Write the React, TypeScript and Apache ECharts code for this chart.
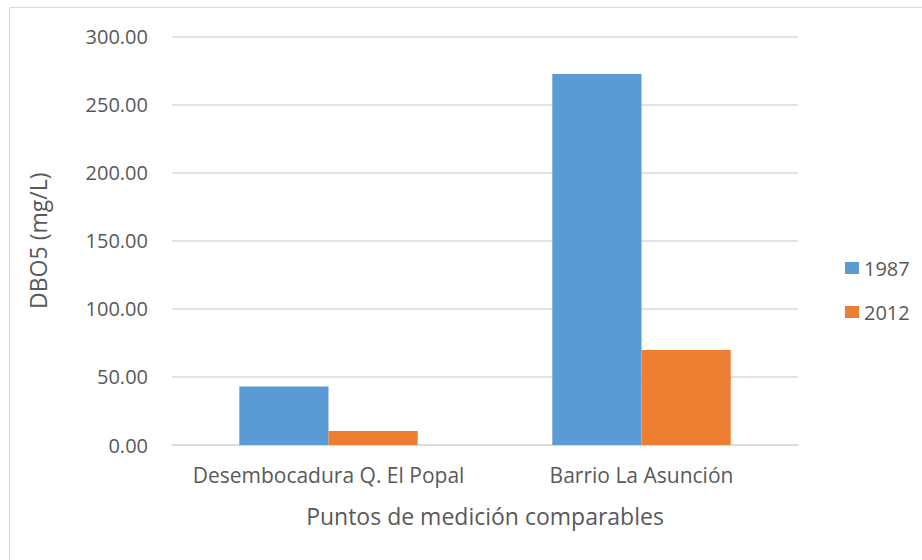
import React, { useEffect, useRef } from "react";
import * as echarts from "echarts";

const categories = ["Desembocadura Q. El Popal", "Barrio La Asunción"];
const values1987 = [43.0, 272.5];
const values2012 = [10.3, 69.8];
const seriesNames = ["1987", "2012"];
const yTicks = { min: 0, max: 300, interval: 50 };

const FONT = "'Open Sans', sans-serif";
const TEXT = "#595959";

export default function App() {
  const ref = useRef<HTMLDivElement>(null);

  useEffect(() => {
    if (!ref.current) return;
    const chart = echarts.init(ref.current, null, { renderer: "svg" });
    chart.setOption({
      animation: false,
      backgroundColor: "#ffffff",
      textStyle: { fontFamily: FONT },
      graphic: [
        {
          type: "rect",
          shape: { x: 9.5, y: 7.5, width: 930, height: 570 },
          style: { fill: "none", stroke: "#d9d9d9", lineWidth: 1 },
          silent: true,
        },
      ],
      grid: { left: 172, right: 124, top: 36.5, bottom: 115, containLabel: false },
      legend: {
        orient: "vertical",
        left: 840,
        top: 253,
        itemWidth: 14,
        itemHeight: 12,
        itemGap: 24,
        icon: "rect",
        textStyle: { color: TEXT, fontSize: 20, fontFamily: FONT, lineHeight: 20 },
        data: seriesNames,
      },
      xAxis: {
        type: "category",
        data: categories,
        name: "Puntos de medición comparables",
        nameLocation: "middle",
        nameGap: 59,
        nameTextStyle: { color: TEXT, fontSize: 23, fontFamily: FONT },
        axisLine: { show: true, lineStyle: { color: "#d9d9d9", width: 1.5 } },
        axisTick: { show: false },
        axisLabel: {
          color: TEXT,
          fontSize: 21,
          fontFamily: FONT,
          margin: 19,
          interval: 0,
          hideOverlap: false,
        },
      },
      yAxis: {
        type: "value",
        min: yTicks.min,
        max: yTicks.max,
        interval: yTicks.interval,
        name: "DBO5 (mg/L)",
        nameLocation: "middle",
        nameGap: 123,
        nameRotate: 90,
        nameTextStyle: { color: TEXT, fontSize: 23, fontFamily: FONT },
        axisLine: { show: false },
        axisTick: { show: false },
        splitLine: { lineStyle: { color: "#d9d9d9", width: 1.5 } },
        axisLabel: {
          color: TEXT,
          fontSize: 20,
          fontFamily: FONT,
          margin: 24,
          formatter: (v: number) => v.toFixed(2),
        },
      },
      series: [
        {
          name: seriesNames[0],
          type: "bar",
          data: values1987,
          barGap: "0%",
          barCategoryGap: "43%",
          itemStyle: { color: "#5B9BD5" },
        },
        {
          name: seriesNames[1],
          type: "bar",
          data: values2012,
          barGap: "0%",
          barCategoryGap: "43%",
          itemStyle: { color: "#ED7D31" },
        },
      ],
    });
    return () => chart.dispose();
  }, []);

  return (
    <div
      ref={ref}
      style={{ position: "fixed", left: 0, top: 0, width: 922, height: 560 }}
    />
  );
}
